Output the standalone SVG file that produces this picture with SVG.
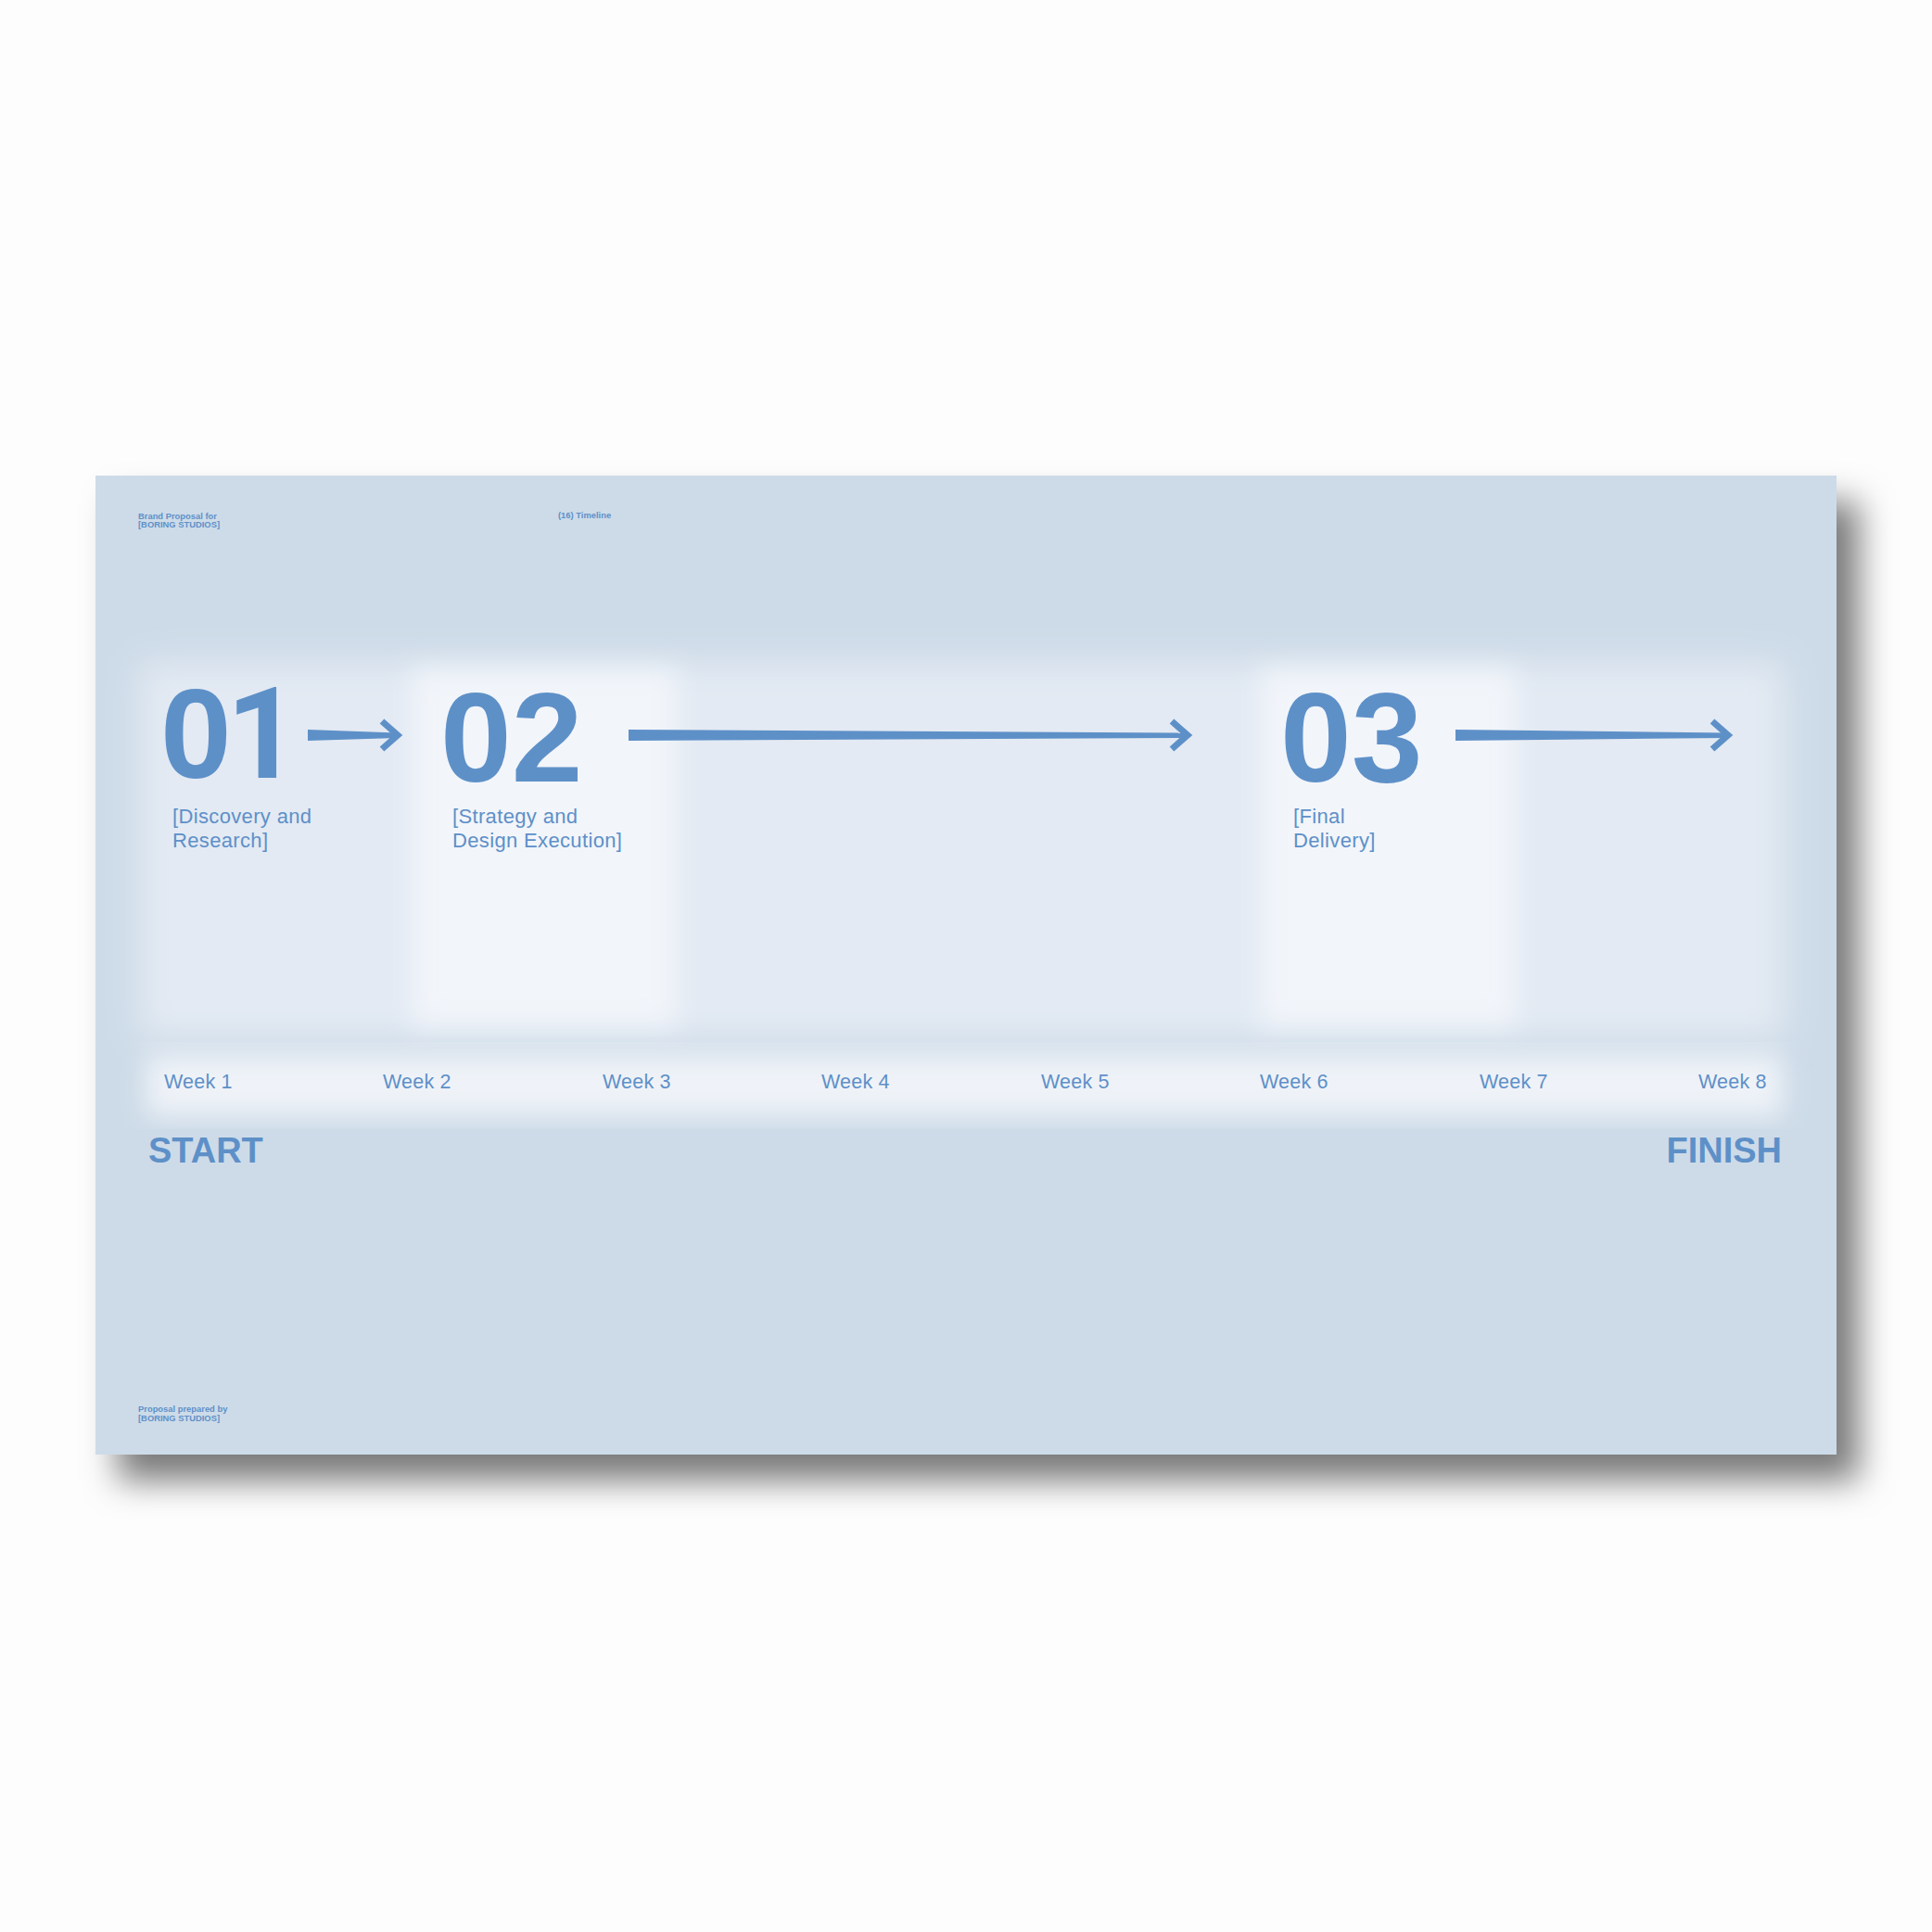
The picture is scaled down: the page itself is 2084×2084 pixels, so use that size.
<svg xmlns="http://www.w3.org/2000/svg" width="2084" height="2084" viewBox="0 0 2084 2084">
<defs>
<filter id="shadow" x="-10%" y="-10%" width="125%" height="135%">
<feDropShadow dx="24" dy="28" stdDeviation="18" flood-color="#000" flood-opacity="0.52"/>
</filter>
<filter id="blurBig" x="-20%" y="-20%" width="140%" height="140%"><feGaussianBlur stdDeviation="18"/></filter>
<filter id="blurMid" x="-20%" y="-20%" width="140%" height="140%"><feGaussianBlur stdDeviation="14"/></filter>
<style>
.t{fill:#5E90C8;font-family:"Liberation Sans",Arial,sans-serif}
.tiny{font-size:9.4px;font-weight:bold}
.num{font-size:138px;font-weight:bold}
.one{font-family:Roboto,"Liberation Sans",sans-serif;font-weight:bold}
.lbl{font-size:22px;letter-spacing:0.35px}
.wk{font-size:21.5px;letter-spacing:0.2px}
.big{font-size:38px;font-weight:bold}
.arrow{fill:#5E90C8}
.chev{fill:none;stroke:#5E90C8;stroke-width:7;stroke-linecap:butt;stroke-linejoin:miter}
</style>
</defs>
<rect width="2084" height="2084" fill="#FDFDFD"/>
<g id="slide">
<rect x="103" y="513" width="1878" height="1056" fill="#CDDBE8" filter="url(#shadow)"/>
<rect x="150" y="715" width="1775" height="405" fill="#E3EAF3" filter="url(#blurBig)"/>
<rect x="445" y="722" width="285" height="385" fill="#F2F5FA" filter="url(#blurMid)"/>
<rect x="1360" y="722" width="275" height="385" fill="#F2F5FA" filter="url(#blurMid)"/>
<rect x="158" y="1138" width="1765" height="66" fill="#EFF3F8" filter="url(#blurMid)"/>
</g>
<g id="header">
<text class="t tiny" x="149" y="560">Brand Proposal for</text>
<text class="t tiny" x="149" y="569">[BORING STUDIOS]</text>
<text class="t tiny" x="602" y="559">(16) Timeline</text>
</g>
<g id="footer">
<text class="t tiny" x="149" y="1523">Proposal prepared by</text>
<text class="t tiny" x="149" y="1533">[BORING STUDIOS]</text>
</g>
<g id="phase-01">
<text class="t num" x="173" y="839"><tspan letter-spacing="-7">0</tspan><tspan class="one" x="244">1</tspan></text>
<text class="t lbl" x="186" y="888">[Discovery and</text>
<text class="t lbl" x="186" y="914">Research]</text>
</g>
<g id="phase-02">
<text class="t num" x="475" y="843">02</text>
<text class="t lbl" x="488" y="888">[Strategy and</text>
<text class="t lbl" x="488" y="914">Design Execution]</text>
</g>
<g id="phase-03">
<text class="t num" x="1381" y="843">03</text>
<text class="t lbl" x="1395" y="888">[Final</text>
<text class="t lbl" x="1395" y="914">Delivery]</text>
</g>
<g id="connectors">
<polygon class="arrow" points="332,787 428,790.5 428,796 332,799"/>
<polyline class="chev" points="412,778 429,793 412,808"/>
<polygon class="arrow" points="678,787 1280,790.5 1280,796 678,799"/>
<polyline class="chev" points="1264,778 1281,793 1264,808"/>
<polygon class="arrow" points="1570,787 1863,790.5 1863,796 1570,799"/>
<polyline class="chev" points="1847,778 1864,793 1847,808"/>
</g>
<g id="weeks">
<text class="t wk" x="177" y="1174">Week 1</text>
<text class="t wk" x="413" y="1174">Week 2</text>
<text class="t wk" x="650" y="1174">Week 3</text>
<text class="t wk" x="886" y="1174">Week 4</text>
<text class="t wk" x="1123" y="1174">Week 5</text>
<text class="t wk" x="1359" y="1174">Week 6</text>
<text class="t wk" x="1596" y="1174">Week 7</text>
<text class="t wk" x="1832" y="1174">Week 8</text>
</g>
<g id="start">
<text class="t big" x="160" y="1254">START</text>
</g>
<g id="finish">
<text class="t big" x="1922" y="1254" text-anchor="end">FINISH</text>
</g>
</svg>
